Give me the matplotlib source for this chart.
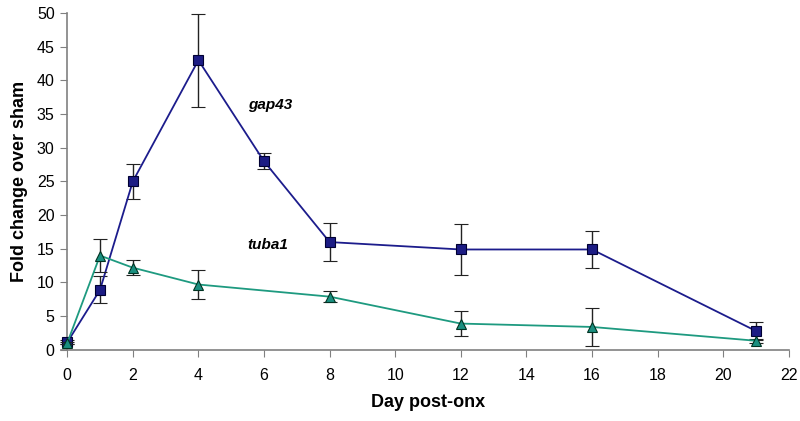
import matplotlib
matplotlib.use("Agg")
import matplotlib.pyplot as plt

plt.rcParams['font.family'] = ['Liberation Sans', 'DejaVu Sans']

days_gap = [0, 1, 2, 4, 6, 8, 12, 16, 21]
gap43 = [1.1, 8.9, 25.0, 43.0, 28.0, 16.0, 14.9, 14.9, 2.8]
gap43_err = [0.3, 2.0, 2.6, 6.9, 1.2, 2.8, 3.8, 2.7, 1.3]

days_tuba = [0, 1, 2, 4, 8, 12, 16, 21]
tuba1 = [1.0, 14.0, 12.2, 9.7, 7.9, 3.9, 3.4, 1.35]
tuba1_err = [0.2, 2.5, 1.1, 2.1, 0.8, 1.8, 2.8, 0.3]

fig = plt.figure(figsize=(8, 4.21), dpi=100)
ax = fig.add_axes([0.084, 0.169, 0.902, 0.8])

ax.errorbar(days_gap, gap43, yerr=gap43_err, color='#1c1c8c', lw=1.3,
            marker='s', ms=7.5, mfc='#1c1c84', mec='#000033', mew=0.8,
            ecolor='#222222', elinewidth=1, capsize=5, capthick=1, zorder=3)
ax.errorbar(days_tuba, tuba1, yerr=tuba1_err, color='#1e9a80', lw=1.3,
            marker='^', ms=7.5, mfc='#1a8f80', mec='#003322', mew=0.8,
            ecolor='#222222', elinewidth=1, capsize=5, capthick=1, zorder=4)

ax.text(5.5, 36.3, 'gap43', fontsize=11, fontweight='bold', style='italic', va='center')
ax.text(5.5, 15.6, 'tuba1', fontsize=11, fontweight='bold', style='italic', va='center')

ax.set_xlim(0, 22)
ax.set_ylim(0, 50)
ax.set_xticks(range(0, 23, 2))
ax.set_yticks(range(0, 51, 5))
ax.spines['top'].set_visible(False)
ax.spines['right'].set_visible(False)
for s in ('left', 'bottom'):
    ax.spines[s].set_color('#808080')
    ax.spines[s].set_linewidth(1.2)
ax.spines['bottom'].set_bounds(-0.2, 22)
ax.tick_params(direction='out', length=5, color='#808080', labelsize=11.5)
ax.tick_params(axis='x', pad=8)
ax.tick_params(axis='y', pad=4)
ax.set_xlabel('Day post-onx', fontsize=13, fontweight='bold', labelpad=8)
ax.set_ylabel('Fold change over sham', fontsize=13, fontweight='bold', labelpad=6)
for c in ax.get_children():
    try:
        c.set_clip_on(False)
    except Exception:
        pass

fig.savefig('out.png', dpi=100)
